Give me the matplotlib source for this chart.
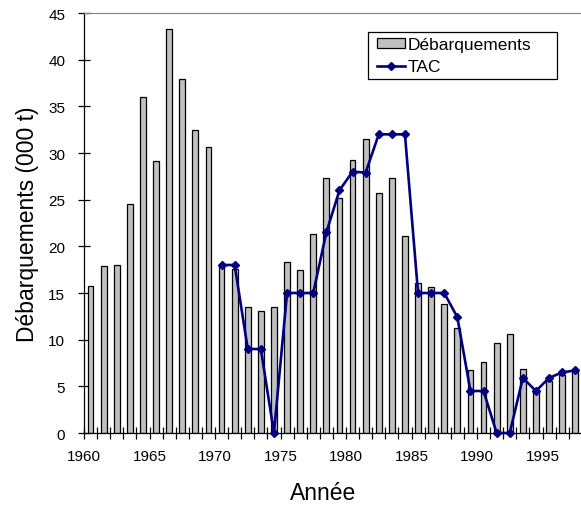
import numpy as np
import matplotlib
matplotlib.use('Agg')
import matplotlib.pyplot as plt
from matplotlib.patches import Rectangle

plt.rcParams['font.family'] = ['Liberation Sans', 'DejaVu Sans']

# landings (000 t), one value per year 1960-1997
years = np.arange(1960, 1998)
landings = [15.8, 17.9, 18.0, 24.5, 36.0, 29.1, 43.3, 37.9, 32.5, 30.6,
            18.0, 17.6, 13.5, 13.1, 13.5, 18.3, 17.5, 21.3, 27.3, 25.2,
            29.2, 31.5, 25.7, 27.3, 21.1, 16.1, 15.6, 13.8, 11.3, 6.8,
            7.6, 9.6, 10.6, 6.9, 4.6, 5.6, 6.2, 6.5]

# TAC from 1970 on
tac_years = np.arange(1970, 1998)
tac = [18.0, 18.0, 9.0, 9.0, 0.0, 15.0, 15.0, 15.0, 21.5, 26.0,
       28.0, 27.9, 32.0, 32.0, 32.0, 15.0, 15.0, 15.0, 12.4, 4.5,
       4.5, 0.0, 0.0, 5.9, 4.5, 5.9, 6.5, 6.7]

W, H = 581, 506
fig = plt.figure(figsize=(W / 100, H / 100), dpi=100)
# plot runs from x=84 px to past the right edge (13.1 px per year)
ax = fig.add_axes([84 / W, 1 - 434 / H, 38 * 13.1 / W, 420 / H])

bars = ax.bar(years + 0.5, landings, width=0.45, color='#c0c0c0',
              edgecolor='black', linewidth=0.9, label='Débarquements', zorder=2)
line, = ax.plot(tac_years + 0.5, tac, color='#000080', linewidth=1.9,
                marker='D', markersize=3.8, label='TAC', zorder=3, clip_on=False)

ax.set_xlim(1960, 1998)
ax.set_ylim(0, 45)
ax.set_yticks(np.arange(0, 46, 5))
ax.set_xticks(np.arange(1960, 1999, 5))
ax.set_xticks(np.arange(1960, 1999), minor=True)

ax.tick_params(axis='y', direction='inout', length=9, width=0.9,
               labelsize=11, pad=9)
ax.tick_params(axis='x', which='both', direction='inout', length=9,
               width=0.9, labelsize=11, pad=7)

ax.spines['right'].set_visible(False)
ax.spines['top'].set_color('#808080')
ax.spines['left'].set_linewidth(0.9)
ax.spines['bottom'].set_linewidth(0.9)

fig.text(27.5 / W, 1 - 224 / H, 'Débarquements (000 t)', rotation=90,
         ha='center', va='center', fontsize=16.5)
fig.text(322.7 / W, 1 - 494 / H, 'Année', ha='center', va='center',
         fontsize=16.5)

# legend frame drawn by hand (Excel style, wide right padding)
fig.patches.append(Rectangle((368 / W, 1 - 80 / H), 189 / W, 47 / H,
                             transform=fig.transFigure, facecolor='white',
                             edgecolor='black', linewidth=0.9, zorder=4))
leg = fig.legend([bars, line], ['Débarquements', 'TAC'], loc='upper left',
                 bbox_to_anchor=(376.7 / W, 1 - 38 / H), fontsize=12.5,
                 frameon=False, handlelength=1.63, handleheight=0.55,
                 handletextpad=0.18, borderpad=0, labelspacing=0.42,
                 borderaxespad=0)
leg.set_zorder(5)

fig.savefig('out.png', dpi=100)
